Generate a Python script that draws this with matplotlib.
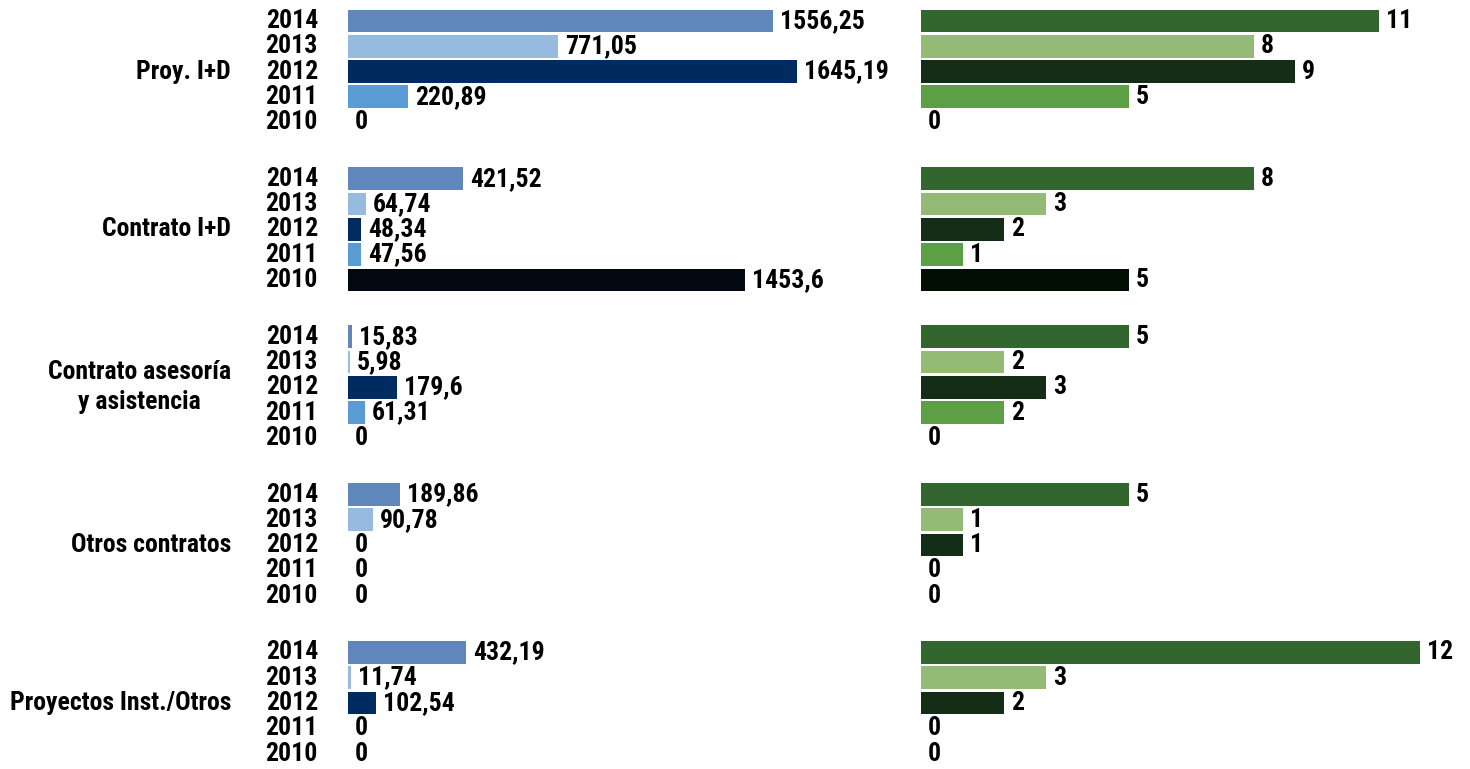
import matplotlib
matplotlib.use("Agg")
import matplotlib.pyplot as plt
from matplotlib import font_manager

categories = ["Proy. I+D", "Contrato I+D", "Contrato asesoría\ny asistencia",
              "Otros contratos", "Proyectos Inst./Otros"]
years = ["2014", "2013", "2012", "2011", "2010"]

# importe (left panel) per category, years 2014..2010
importe = [
    [1556.25, 771.05, 1645.19, 220.89, 0],
    [421.52, 64.74, 48.34, 47.56, 1453.6],
    [15.83, 5.98, 179.6, 61.31, 0],
    [189.86, 90.78, 0, 0, 0],
    [432.19, 11.74, 102.54, 0, 0],
]
# número (right panel)
numero = [
    [11, 8, 9, 5, 0],
    [8, 3, 2, 1, 5],
    [5, 2, 3, 2, 0],
    [5, 1, 1, 0, 0],
    [12, 3, 2, 0, 0],
]
blue_colors = ["#5f87bb", "#97bbdf", "#002b61", "#5a9bd4", "#020810"]
green_colors = ["#33652e", "#94bb75", "#132d16", "#5c9f44", "#020d03"]

names = {f.name for f in font_manager.fontManager.ttflist}
fam = [f for f in ["Roboto Condensed", "Liberation Sans Narrow", "Liberation Sans", "DejaVu Sans"] if f in names]
plt.rcParams["font.family"] = fam
plt.rcParams["font.weight"] = "bold"

W, H = 1470, 769
fig = plt.figure(figsize=(W / 100, H / 100), dpi=100)

pitch_px = 25.3
group_px = 158.0
gstep = group_px / pitch_px
y0_px = 21.0
ylim = (29.0 + (H - 754) / pitch_px, -y0_px / pitch_px)

def ypos(g, i):
    return g * gstep + i

def fmt(v):
    s = f"{v:g}"
    return s.replace(".", ",")

lx0, lx1 = 348, 905
axL = fig.add_axes([lx0 / W, 0, (lx1 - lx0) / W, 1])
scaleL = 0.273  # px per unit
axL.set_xlim(0, (lx1 - lx0) / scaleL)
axL.set_ylim(*ylim)

rx0, rx1 = 921, 1470
axR = fig.add_axes([rx0 / W, 0, (rx1 - rx0) / W, 1])
scaleR = 41.6
axR.set_xlim(0, (rx1 - rx0) / scaleR)
axR.set_ylim(*ylim)

fs = 18.5
fw = "heavy"
for g, cat in enumerate(categories):
    for i, yr in enumerate(years):
        y = ypos(g, i)
        v = importe[g][i]
        axL.barh(y, v, height=0.9, color=blue_colors[i], linewidth=0)
        axL.annotate(fmt(v), (v, y), xytext=(5, 0), textcoords="offset points",
                     ha="left", va="center", fontsize=fs, fontweight=fw)
        n = numero[g][i]
        axR.barh(y, n, height=0.9, color=green_colors[i], linewidth=0)
        axR.annotate(fmt(n), (n, y), xytext=(5, 0), textcoords="offset points",
                     ha="left", va="center", fontsize=fs, fontweight=fw)
        axL.annotate(yr, (0, y), xytext=(-30 * 72 / 100, 0), textcoords="offset points",
                     ha="right", va="center", fontsize=fs, fontweight=fw)
    axL.annotate(cat, (0, ypos(g, 2)), xytext=(-117 * 72 / 100, 0), textcoords="offset points",
                 ha="right", va="center", multialignment="center",
                 fontsize=fs, fontweight=fw, linespacing=1.3)

for ax in (axL, axR):
    ax.axis("off")

fig.savefig("out.png", dpi=100)
